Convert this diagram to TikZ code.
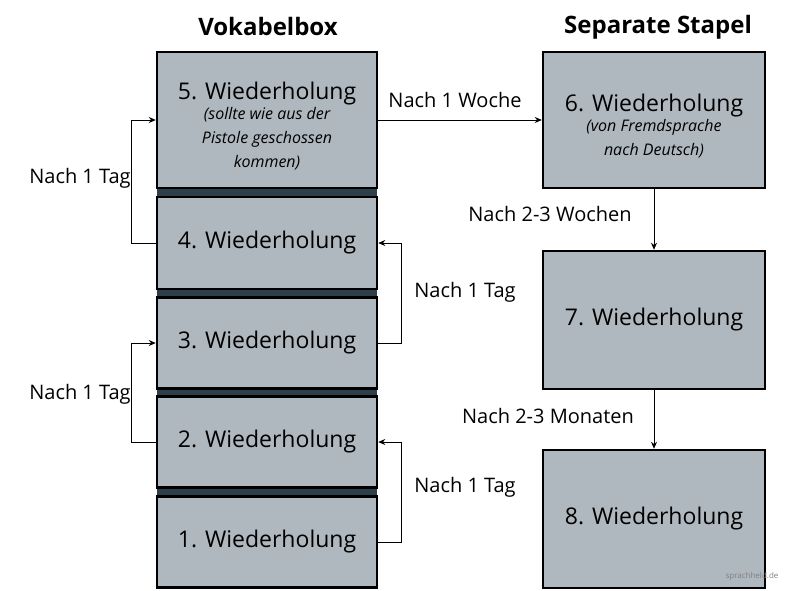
\documentclass[tikz,border=0pt]{standalone}
\usepackage{fontspec}
\setmainfont{Open Sans}
\usetikzlibrary{positioning,arrows.meta}
\definecolor{boxgray}{RGB}{176,184,191}
\definecolor{banddark}{RGB}{46,63,76}
\newcommand{\subtxt}[1]{{\fontsize{16}{18}\selectfont\itshape #1}}

\begin{document}
\begin{tikzpicture}[x=1pt,y=-1pt]
    \tikzstyle{box} = [rectangle, draw=black, line width=2.5pt, fill=boxgray, font=\fontsize{23}{24}\selectfont, align=center, inner sep=0pt]
    \tikzstyle{lbl} = [font=\fontsize{20}{20}\selectfont]
    \tikzstyle{arr} = [-{Stealth[length=7pt,width=6pt]}, line width=0.8pt]
    \useasboundingbox (0,0) rectangle (800,590);

    % Titles
    \node [font=\fontsize{24}{24}\selectfont\bfseries] (tbox) at (268,26) {Vokabelbox};
    \node [font=\fontsize{24}{24}\selectfont\bfseries] (tstapel) at (658,27) {Separate Stapel};

    % Dark bands of the box
    \foreach \y in {188,289,388,488}
        \fill [banddark] (157,\y) rectangle (377,\y+9);

    % Vokabelbox
    \node [box, minimum width=220pt, minimum height=136pt] (w5) at (267,120) {\rule{0pt}{30pt}5. Wiederholung\\[-4pt]\subtxt{(sollte wie aus der}\\[0pt]\subtxt{Pistole geschossen}\\[0pt]\subtxt{kommen)}};
    \node [box, minimum width=220pt, minimum height=92pt] (w4) at (267,243) {4. Wiederholung};
    \node [box, minimum width=220pt, minimum height=91pt] (w3) at (267,343) {3. Wiederholung};
    \node [box, minimum width=220pt, minimum height=91pt] (w2) at (267,442) {2. Wiederholung};
    \node [box, minimum width=220pt, minimum height=91pt] (w1) at (267,542) {1. Wiederholung};

    % Separate Stapel
    \node [box, minimum width=222pt, minimum height=136pt] (w6) at (654,120) {\rule{0pt}{30pt}6. Wiederholung\\[-4pt]\subtxt{(von Fremdsprache}\\[0pt]\subtxt{nach Deutsch)}};
    \node [box, minimum width=222pt, minimum height=138pt] (w7) at (654,320) {7. Wiederholung};
    \node [box, minimum width=222pt, minimum height=138pt] (w8) at (654,519) {8. Wiederholung};

    % Arrows
    \draw [arr] (w4.west) -- ++(-24,0) |- (w5.west);
    \draw [arr] (w2.west) -- ++(-24,0) |- (w3.west);
    \draw [arr] (w3.east) -- ++(23,0) |- (w4.east);
    \draw [arr] (w1.east) -- ++(23,0) |- (w2.east);
    \draw [arr] (w5.east) -- (w6.west);
    \draw [arr] (w6.south) -- (w7.north);
    \draw [arr] (w7.south) -- (w8.north);

    % Labels
    \node [lbl] (l54) at (80,178) {Nach 1 Tag};
    \node [lbl] (l32) at (80,394) {Nach 1 Tag};
    \node [lbl] (l43) at (465,292) {Nach 1 Tag};
    \node [lbl] (l21) at (465,487) {Nach 1 Tag};
    \node [lbl] (l56) at (455,100) {Nach 1 Woche};
    \node [lbl] (l67) at (550,214) {Nach 2-3 Wochen};
    \node [lbl] (l78) at (548,416) {Nach 2-3 Monaten};

    \node [font=\fontsize{8}{10}\selectfont, text=gray] (mark) at (752,576) {sprachheld.de};
\end{tikzpicture}
\end{document}
